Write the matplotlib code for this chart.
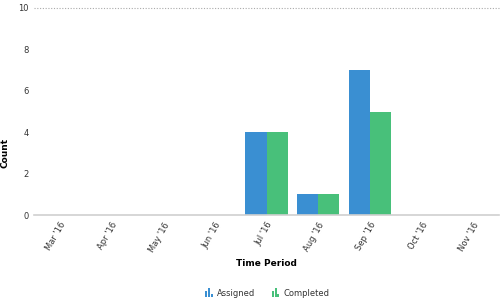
import matplotlib
matplotlib.use("Agg")
import matplotlib.pyplot as plt
import numpy as np
from matplotlib.legend_handler import HandlerBase
from matplotlib.patches import Rectangle, Patch

categories = ["Mar '16", "Apr '16", "May '16", "Jun '16", "Jul '16", "Aug '16", "Sep '16", "Oct '16", "Nov '16"]
assigned = [0, 0, 0, 0, 4, 1, 7, 0, 0]
completed = [0, 0, 0, 0, 4, 1, 5, 0, 0]
yticks = [0, 2, 4, 6, 8, 10]

blue = "#3a8fd2"
green = "#48c07a"

fig = plt.figure(figsize=(5, 3.06), dpi=100)
ax = fig.add_axes([0.068, 0.297, 0.93, 0.677])

x = np.arange(len(categories))
w = 0.41
ax.bar(x - w / 2, assigned, width=w, color=blue, label="Assigned")
ax.bar(x + w / 2, completed, width=w, color=green, label="Completed")

ax.set_xlim(-0.5, len(categories) - 0.5)
ax.set_ylim(0, 10)
ax.set_yticks(yticks)
ax.set_yticklabels([str(t) for t in yticks], fontsize=6, color="#333333")
ax.set_xticks(x)
ax.set_xticklabels(categories, rotation=60, ha="right", rotation_mode="anchor", fontsize=6, color="#333333")
ax.tick_params(axis="y", length=0, pad=4)
ax.tick_params(axis="x", length=0, pad=4)
for s in ["top", "right", "left"]:
    ax.spines[s].set_visible(False)
ax.spines["bottom"].set_color("#d0d0d0")
ax.spines["bottom"].set_linewidth(1.2)
ax.axhline(10, color="#aaaaaa", linestyle=(0, (1, 1.5)), linewidth=0.8, clip_on=False)

ax.set_ylabel("Count", fontsize=6.5, fontweight="bold")
ax.yaxis.set_label_coords(10 / 500, 0.5, transform=fig.transFigure)
ax.set_xlabel("Time Period", fontsize=6.5, fontweight="bold", labelpad=4)


class BarIconHandler(HandlerBase):
    def create_artists(self, legend, orig_handle, xdescent, ydescent, width, height, fontsize, trans):
        c = orig_handle.get_facecolor()
        arts = []
        bw = width / 3.6
        hs = [0.65, 1.0, 0.4]
        for i, h in enumerate(hs):
            r = Rectangle((i * bw * 1.3, -ydescent), bw, height * h, facecolor=c, edgecolor="none", transform=trans)
            arts.append(r)
        return arts


handles = [Patch(facecolor=blue), Patch(facecolor=green)]
fig.legend(handles, ["Assigned", "Completed"], handler_map={Patch: BarIconHandler()},
           loc="center", bbox_to_anchor=(0.535, 0.043), ncol=2, frameon=False, fontsize=6,
           handlelength=0.9, handleheight=1.3, handletextpad=0.5, columnspacing=2.0, labelcolor="#333333")

fig.savefig("out.png", dpi=100)
